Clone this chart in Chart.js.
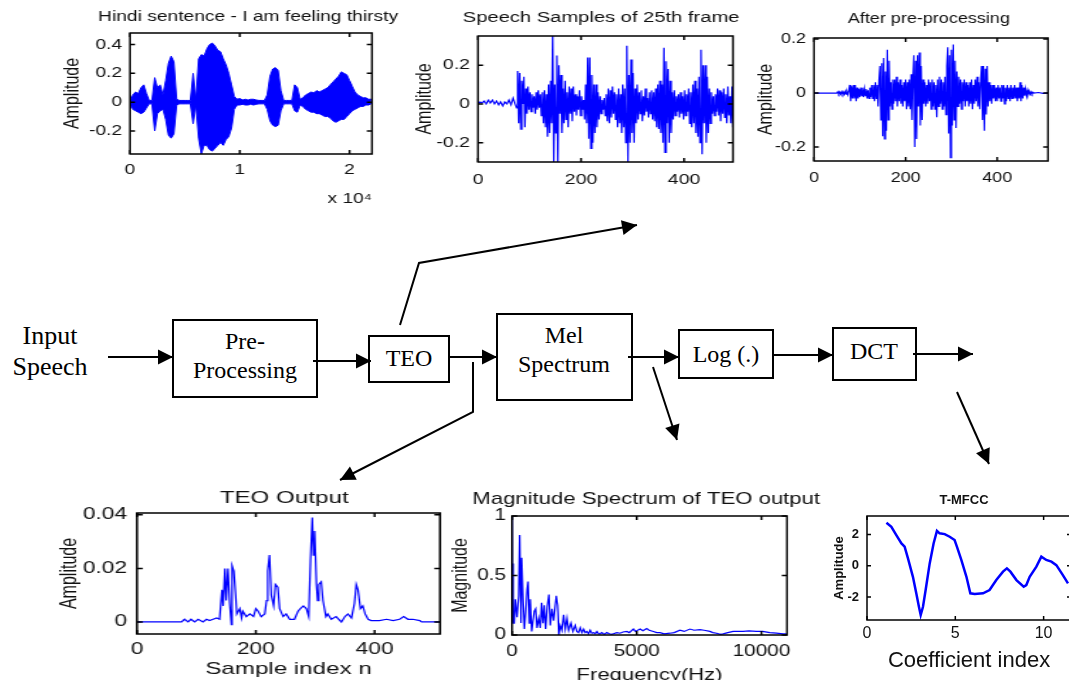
<!DOCTYPE html>
<html>
<head>
<meta charset="utf-8">
<title>TEO based MFCC extraction</title>
<script src="https://cdn.jsdelivr.net/npm/chart.js@4.4.1/dist/chart.umd.min.js"></script>
<style>
  html, body { margin: 0; padding: 0; background: #fff; }
  body { position: relative; width: 1069px; height: 680px; overflow: hidden; }
  .panel { position: absolute; transform-origin: 0 0; }
  .panel canvas { display: block; }
  #diagram { position: absolute; left: 0; top: 0; }
</style>
</head>
<body>
<svg id="diagram" width="1069" height="680"></svg>
<script>
// whole sentence, envelope read every 250 samples
var hindiX = [0,250,500,750,1000,1250,1500,1750,2000,2250,2500,2750,3000,3250,3500,3750,4000,4250,4500,4750,5000,5250,5500,5750,6000,6250,6500,6750,7000,7250,7500,7750,8000,8250,8500,8750,9000,9250,9500,9750,10000,10250,10500,10750,11000,11250,11500,11750,12000,12250,12500,12750,13000,13250,13500,13750,14000,14250,14500,14750,15000,15250,15500,15750,16000,16250,16500,16750,17000,17250,17500,17750,18000,18250,18500,18750,19000,19250,19500,19750,20000,20250,20500,20750,21000,21250,21500,21750,22000];
var hindiUpper = [0.01,0.05,0.07,0.06,0.10,0.12,0.06,0.012,0.012,0.17,0.10,0.12,0.05,0.15,0.27,0.32,0.28,0.02,0.012,0.012,0.012,0.012,0.012,0.20,0.02,0.30,0.33,0.32,0.37,0.40,0.41,0.39,0.36,0.35,0.30,0.26,0.20,0.12,0.04,0.02,0.025,0.015,0.02,0.015,0.02,0.02,0.015,0.012,0.012,0.012,0.05,0.18,0.23,0.24,0.22,0.08,0.012,0.012,0.012,0.012,0.12,0.10,0.02,0.03,0.05,0.06,0.07,0.065,0.08,0.07,0.08,0.09,0.10,0.12,0.14,0.16,0.18,0.21,0.20,0.19,0.15,0.11,0.07,0.05,0.04,0.03,0.03,0.02,0.02];
var hindiLower = [-0.01,-0.05,-0.06,-0.07,-0.08,-0.07,-0.04,-0.012,-0.012,-0.20,-0.08,-0.06,-0.05,-0.12,-0.23,-0.25,-0.22,-0.02,-0.012,-0.012,-0.012,-0.012,-0.012,-0.15,-0.02,-0.25,-0.36,-0.30,-0.30,-0.33,-0.34,-0.32,-0.30,-0.28,-0.30,-0.26,-0.24,-0.18,-0.05,-0.02,-0.02,-0.015,-0.02,-0.02,-0.015,-0.02,-0.015,-0.012,-0.012,-0.012,-0.05,-0.13,-0.16,-0.17,-0.16,-0.06,-0.012,-0.012,-0.012,-0.012,-0.06,-0.07,-0.02,-0.03,-0.05,-0.06,-0.07,-0.07,-0.08,-0.08,-0.09,-0.10,-0.10,-0.11,-0.13,-0.14,-0.13,-0.12,-0.12,-0.10,-0.08,-0.06,-0.05,-0.04,-0.03,-0.03,-0.02,-0.02,-0.01];

// 25th frame
var frameN = [0,4,8,12,16,20,24,28,32,36,40,44,48,52,56,60,64,68,72,75,77,79,81,83,85,87,89,91,93,95,97,99,101,103,105,107,109,111,113,115,117,119,121,123,125,127,129,131,133,135,137,139,141,143,145,147,149,151,153,155,157,159,161,163,165,167,169,171,173,175,177,179,181,183,185,187,189,191,193,195,197,199,201,203,205,207,209,211,213,215,217,219,221,223,225,227,229,231,233,235,237,239,241,243,245,247,249,251,253,255,257,259,261,263,265,267,269,271,273,275,277,279,281,283,285,287,289,291,293,295,297,299,301,303,305,307,309,311,313,315,317,319,321,323,325,327,329,331,333,335,337,339,341,343,345,347,349,351,353,355,357,359,361,363,365,367,369,371,373,375,377,379,381,383,385,387,389,391,393,395,397,399,401,403,405,407,409,411,413,415,417,419,421,423,425,427,429,431,433,435,437,439,441,443,445,447,449,451,453,455,457,459,461,463,465,467,469,471,473,475,477,479,481,483,485,487,489,491,493,495];
var frameAmp = [0,0.01,0.005,0.015,0,0.02,0.005,0.02,0,0.015,-0.005,0.01,-0.01,0.01,0,0.02,-0.005,0.03,0,-0.02,0.17,-0.1,0.16,-0.13,0.12,0,0.14,-0.12,0.08,-0.05,0.09,-0.03,0.06,-0.04,0.05,-0.02,0.04,-0.05,0.06,-0.03,0.07,-0.02,0.05,-0.06,0.06,-0.1,0.07,-0.12,0.05,-0.17,0.1,-0.15,0.12,-0.1,0.36,-0.3,0.1,-0.15,0.25,-0.3,0.2,-0.05,0.15,-0.15,0.08,-0.1,0.12,-0.08,0.06,-0.12,0.09,-0.05,0.08,-0.09,0.09,-0.04,0.05,-0.06,0.04,-0.03,0.07,-0.06,0.04,-0.03,0.02,-0.08,0.1,-0.1,0.24,-0.18,0.24,-0.23,0.15,-0.2,0.1,-0.15,0.1,-0.12,0.06,-0.08,0.04,-0.05,0.02,-0.03,0.03,-0.06,0.05,-0.09,0.08,-0.1,0.07,-0.07,0.09,-0.05,0.06,-0.08,0.05,-0.12,0.08,-0.1,0.05,-0.15,0.1,-0.12,0.08,-0.2,0.3,-0.3,0.15,-0.2,0.23,-0.15,0.16,-0.2,0.08,-0.1,0.1,-0.08,0.06,-0.05,0.07,-0.09,0.04,-0.06,0.08,-0.04,0.03,-0.07,0.06,-0.05,0.07,-0.08,0.06,-0.09,0.08,-0.12,0.1,-0.13,0.12,-0.15,0.1,-0.2,0.29,-0.25,0.22,-0.1,0.18,-0.2,0.12,-0.15,0.06,-0.08,0.07,-0.06,0.04,-0.04,0.05,-0.07,0.06,-0.05,0.04,-0.08,0.07,-0.06,0.05,-0.04,0.08,-0.1,0.06,-0.12,0.1,-0.1,0.12,-0.15,0.08,-0.17,0.14,-0.2,0.28,-0.26,0.2,-0.1,0.2,-0.2,0.14,-0.15,0.08,-0.1,0.06,-0.05,0.04,-0.06,0.05,-0.04,0.08,-0.06,0.07,-0.09,0.06,-0.05,0.08,-0.07,0.05,-0.1,0.09,-0.06,0.04,-0.1,0.09,-0.12];

// same frame after pre-processing
var preN = [0,50,52,54,56,58,60,62,64,66,68,70,72,74,76,78,80,82,84,86,88,90,92,94,96,98,100,102,104,106,108,110,112,114,116,118,120,122,124,126,128,130,132,134,136,138,140,142,144,146,148,150,152,154,156,158,160,162,164,166,168,170,172,174,176,178,180,182,184,186,188,190,192,194,196,198,200,202,204,206,208,210,212,214,216,218,220,222,224,226,228,230,232,234,236,238,240,242,244,246,248,250,252,254,256,258,260,262,264,266,268,270,272,274,276,278,280,282,284,286,288,290,292,294,296,298,300,302,304,306,308,310,312,314,316,318,320,322,324,326,328,330,332,334,336,338,340,342,344,346,348,350,352,354,356,358,360,362,364,366,368,370,372,374,376,378,380,382,384,386,388,390,392,394,396,398,400,402,404,406,408,410,412,414,416,418,420,422,424,426,428,430,432,434,436,438,440,442,444,446,448,450,452,454,456,458,460,462,464,466,468,470,472,474,476,478,480,490,500,511];
var preAmp = [0,0,0.005,-0.003,0.004,-0.004,0.005,-0.004,0.004,-0.005,0.006,-0.004,0.005,-0.006,0.01,0.03,-0.03,0.025,-0.02,0.03,-0.02,0.03,-0.03,0.02,-0.02,0.015,-0.015,0.02,-0.01,0.02,-0.015,0.015,-0.01,0.015,-0.02,0.01,-0.02,0.02,-0.015,0.03,-0.02,0.03,-0.03,0.04,-0.02,0.03,-0.05,0.05,0.1,-0.1,0.11,-0.16,0.13,-0.17,0.08,-0.14,0.16,-0.1,0.12,-0.05,0.04,-0.06,0.05,-0.04,0.05,-0.03,0.06,-0.05,0.04,-0.03,0.05,-0.04,0.03,-0.05,0.04,-0.03,0.05,-0.06,0.04,-0.05,0.05,-0.06,0.07,-0.1,0.06,0.14,-0.2,0.12,-0.17,0.14,-0.05,0.15,-0.12,0.1,-0.1,0.05,-0.04,0.04,-0.05,0.03,-0.04,0.05,-0.03,0.04,-0.06,0.05,-0.05,0.04,-0.06,0.03,-0.09,0.05,-0.05,0.06,-0.04,0.05,-0.06,0.04,-0.05,0.06,-0.08,0.1,0.17,-0.15,0.14,-0.24,0.16,-0.12,0.18,-0.1,0.12,-0.13,0.08,-0.05,0.06,-0.04,0.05,-0.06,0.04,-0.03,0.05,-0.05,0.04,-0.03,0.03,-0.05,0.04,-0.04,0.05,-0.06,0.03,-0.04,0.05,-0.03,0.06,-0.05,0.04,-0.06,0.05,0.1,-0.1,0.1,-0.14,0.09,-0.08,0.1,-0.05,0.04,-0.03,0.03,-0.04,0.03,-0.02,0.03,-0.03,0.02,-0.03,0.03,-0.02,0.02,-0.03,0.03,-0.02,0.03,-0.04,0.02,-0.03,0.03,-0.02,0.02,-0.03,0.03,-0.02,0.02,-0.02,0.03,-0.02,0.02,-0.03,0.02,-0.02,0.04,-0.03,0.03,-0.02,0.02,-0.01,0.015,-0.01,0.01,-0.005,0.008,-0.004,0.004,-0.003,0.003,0,0.002,-0.001,0];

// TEO output
var teoN = [0,75,80,86,91,97,103,111,117,122,128,134,139,143,145,148,150,153,156,159,160,163,166,168,173,176,178,184,190,196,200,204,209,215,218,220,223,226,230,233,237,240,246,251,257,265,271,275,280,285,289,292,295,297,299,302,304,306,310,313,318,321,327,335,344,350,355,361,366,369,372,376,380,384,389,394,408,420,431,442,449,456,464,476,479,509];
var teoVal = [0,0,0.001,0,0.001,0,0.001,0,0.001,0.0005,0.001,0.0015,0.001,0.012,0.006,0.02,0.008,0.02,0.007,-0.001,0.021,0.019,0.01,0.003,0.005,0.0015,0.004,0.002,0.003,0.002,0.005,0.004,0.002,0.003,0.008,0.019,0.025,0.01,0.006,0.014,0.013,0.005,0.002,0.003,0.001,0.001,0.004,0.005,0.006,0.005,0.002,0.023,0.039,0.025,0.034,0.014,0.008,0.014,0.015,0.008,0.002,0.003,0.001,0.002,0,0.002,0.003,0.0015,0.007,0.014,0.012,0.005,0.006,0.003,0.001,0.0005,0.0005,0.001,0.0005,0.001,0.002,0.001,0.001,0.0005,0,0];

// magnitude spectrum of the TEO output
var specHz = [0,20,40,60,93,133,200,267,307,360,387,440,493,547,600,640,693,733,787,840,893,947,1000,1067,1133,1187,1240,1293,1347,1413,1480,1533,1600,1667,1773,1827,1880,1933,2000,2067,2133,2200,2267,2360,2440,2533,2600,2667,2733,2800,2867,2933,3000,3067,3133,3200,3267,3333,3400,3467,3533,3600,3700,3800,3900,4000,4067,4200,4333,4450,4600,4700,4867,4950,5133,5250,5400,5500,5667,5800,5933,6100,6333,6500,6733,6900,7133,7300,7533,7700,7933,8050,8200,8350,8467,8650,8867,9050,9267,9500,9800,10050,10333,10600,10867,11000];
var specMag = [1.0,0.15,0.6,0.1,0.1,0.3,0.15,0.33,0.84,0.1,0.65,0.3,0.05,0.2,0.38,0.45,0.1,0.3,0.03,0.12,0.2,0.22,0.06,0.14,0.06,0.27,0.1,0.25,0.05,0.24,0.34,0.08,0.22,0.12,0.33,0.25,0,0.08,0.04,0.17,0.05,0.14,0.04,0.1,0.03,0.08,0.03,0.02,0.06,0.02,0.05,0.02,0.03,0.01,0.04,0.015,0.02,0.01,0.03,0.01,0.01,0.02,0.005,0.02,0.01,0.005,0.01,0.02,0.015,0.025,0.03,0.02,0.05,0.03,0.05,0.035,0.055,0.04,0.03,0.02,0.02,0.01,0.015,0.02,0.04,0.03,0.05,0.04,0.045,0.04,0.03,0.02,0.015,0.005,0.01,0.02,0.03,0.03,0.03,0.035,0.03,0.03,0.02,0.015,0.01,0.01];

// T-MFCC coefficients
var mfccIdx = [1.10,1.38,1.66,1.95,2.13,2.32,2.60,2.79,2.94,3.04,3.17,3.32,3.55,3.77,3.96,4.11,4.40,4.68,4.96,5.09,5.34,5.63,5.85,6.10,6.57,6.94,7.32,7.70,7.92,8.12,8.46,8.87,9.02,9.21,9.59,9.87,10.15,10.44,10.72,11.09,11.38];
var mfccVal = [2.76,2.50,1.97,1.43,1.22,0.47,-0.71,-1.77,-2.63,-3.16,-2.63,-1.56,0.15,1.43,2.24,2.08,2.03,1.86,1.65,1.22,0.37,-0.71,-1.77,-1.81,-1.77,-1.56,-0.92,-0.38,-0.17,-0.38,-0.92,-1.35,-1.24,-0.71,-0.06,0.58,0.37,0.26,0.04,-0.60,-1.13];

// tick labels
var hindiXTicks = [0, 10000, 20000];
var hindiYTicks = [-0.2, 0, 0.2, 0.4];
var frameXTicks = [0, 200, 400];
var frameYTicks = [-0.2, 0, 0.2];
var teoYTicks = [0, 0.02, 0.04];
var specXTicks = [0, 5000, 10000];
var specYTicks = [0, 0.5, 1];
var mfccXTicks = [0, 5, 10];
var mfccYTicks = [-2, 0, 2];

// block diagram
var blocks = [
  { x: 173, y: 320, w: 144, h: 77, lines: ['Pre-', 'Processing'], cx: 245, base: [349, 378] },
  { x: 369, y: 336, w: 80, h: 46, lines: ['TEO'], cx: 409, base: [366] },
  { x: 497, y: 314, w: 135, h: 86, lines: ['Mel', 'Spectrum'], cx: 564, base: [343, 372] },
  { x: 679, y: 330, w: 94, h: 48, lines: ['Log (.)'], cx: 726, base: [362] },
  { x: 833, y: 328, w: 83, h: 52, lines: ['DCT'], cx: 874, base: [359] }
];
var arrows = [
  [[108, 357], [173, 357]],
  [[313, 361], [371, 361]],
  [[449, 357], [497, 357]],
  [[628, 357], [679, 357]],
  [[773, 355], [833, 355]],
  [[913, 354], [973, 354]],
  [[400, 325], [419, 263], [637, 225]],
  [[473, 362], [473, 412], [340, 480]],
  [[653, 367], [677, 440]],
  [[957, 392], [989, 464]]
];

Chart.defaults.font.family = '"Liberation Sans", Arial, sans-serif';

var svg = document.getElementById('diagram');
function el(tag, attrs, text) {
  var n = document.createElementNS('http://www.w3.org/2000/svg', tag);
  for (var k in attrs) n.setAttribute(k, attrs[k]);
  if (text) n.textContent = text;
  svg.appendChild(n);
  return n;
}
var serif = '"Liberation Serif", "Times New Roman", serif';
el('text', { x: 50, y: 344, 'text-anchor': 'middle', 'font-family': serif, 'font-size': 26 }, 'Input');
el('text', { x: 50, y: 375, 'text-anchor': 'middle', 'font-family': serif, 'font-size': 26 }, 'Speech');
blocks.forEach(function (b) {
  el('rect', { x: b.x, y: b.y, width: b.w, height: b.h, fill: 'none', stroke: '#000', 'stroke-width': 2 });
  b.lines.forEach(function (t, i) {
    el('text', { x: b.cx, y: b.base[i], 'text-anchor': 'middle', 'font-family': serif, 'font-size': 24 }, t);
  });
});
arrows.forEach(function (pts) {
  el('polyline', { points: pts.map(function (p) { return p.join(','); }).join(' '), fill: 'none', stroke: '#000', 'stroke-width': 2 });
  var a = pts[pts.length - 2], b = pts[pts.length - 1];
  var dx = b[0] - a[0], dy = b[1] - a[1], len = Math.sqrt(dx * dx + dy * dy);
  var ux = dx / len, uy = dy / len, hl = 15, hw = 7.5;
  var bx = b[0] - ux * hl, by = b[1] - uy * hl;
  el('polygon', { points: [b[0], b[1], bx - uy * hw, by + ux * hw, bx + uy * hw, by - ux * hw].join(','), fill: '#000' });
});

// MATLAB style box with inner ticks on all four sides
var frame = {
  id: 'frame',
  afterDatasetsDraw: function (chart) {
    var a = chart.chartArea, ctx = chart.ctx, xs = chart.scales.x, ys = chart.scales.y;
    ctx.save();
    ctx.strokeStyle = '#000';
    ctx.lineWidth = 1.5;
    ctx.strokeRect(a.left, a.top, a.right - a.left, a.bottom - a.top);
    ctx.beginPath();
    xs.ticks.forEach(function (t) {
      var px = xs.getPixelForValue(t.value);
      ctx.moveTo(px, a.bottom); ctx.lineTo(px, a.bottom - 4);
      ctx.moveTo(px, a.top); ctx.lineTo(px, a.top + 4);
    });
    ys.ticks.forEach(function (t) {
      var py = ys.getPixelForValue(t.value);
      ctx.moveTo(a.left, py); ctx.lineTo(a.left + 4, py);
      ctx.moveTo(a.right, py); ctx.lineTo(a.right - 4, py);
    });
    ctx.stroke();
    ctx.restore();
  }
};

function pts(xs, ys) {
  return xs.map(function (x, i) { return { x: x, y: ys[i] }; });
}
function plain(v) { return String(v); }

// box = [left, top, height]. The title is centred on the whole canvas, so the
// canvas is made wide enough for its centre to sit on the title centre; an empty
// right-hand axis takes up the space between the plot box and the canvas edge.
function addPanel(p) {
  var s = p.stretch, L = p.box[0], T = p.box[1], H = p.box[2];
  var W = 2 * (p.titleX - L);
  var wrap = document.createElement('div');
  wrap.className = 'panel';
  wrap.style.left = L + 'px';
  wrap.style.top = T + 'px';
  wrap.style.transform = 'scaleX(' + s + ')';
  var canvas = document.createElement('canvas');
  canvas.width = Math.round(W / s);
  canvas.height = H;
  wrap.appendChild(canvas);
  document.body.appendChild(wrap);

  var yW = (p.plot[0] - L) / s;
  var spareR = canvas.width - (p.plot[2] - L) / s;
  var xH = T + H - p.plot[3];
  var tf = p.titleFont.size;
  var tTop = p.titleY - T - 0.6 * tf;
  var tBottom = p.plot[1] - T - 1.2 * tf - tTop;
  var xf = p.xTickFont.size;

  new Chart(canvas, {
    type: 'line',
    data: { datasets: p.datasets },
    options: {
      responsive: false,
      animation: false,
      events: [],
      layout: { padding: 0 },
      elements: { point: { radius: 0 }, line: { tension: 0 } },
      plugins: {
        legend: { display: false },
        tooltip: { enabled: false },
        title: {
          display: true, text: p.title, color: '#111',
          font: p.titleFont, padding: { top: tTop, bottom: tBottom }
        }
      },
      scales: {
        x: {
          type: 'linear', min: p.xRange[0], max: p.xRange[1],
          grid: { display: false, drawTicks: false },
          border: { display: false },
          afterBuildTicks: function (sc) { sc.ticks = p.xTicks.map(function (v) { return { value: v }; }); },
          afterFit: function (sc) { sc.height = xH; },
          ticks: {
            color: '#111', font: p.xTickFont, autoSkip: false, maxRotation: 0,
            padding: p.xLabelY - p.plot[3] - 0.6 * xf,
            callback: p.xFormat || plain
          },
          title: p.xTitle ? {
            display: true, text: p.xTitle.text, align: p.xTitle.align || 'center',
            color: '#111', font: p.xTitle.font,
            padding: { top: 0, bottom: T + H - p.xTitle.y - 0.6 * p.xTitle.font.size }
          } : { display: false }
        },
        y: {
          type: 'linear', min: p.yRange[0], max: p.yRange[1],
          grid: { display: false, drawTicks: false },
          border: { display: false },
          afterBuildTicks: function (sc) { sc.ticks = p.yTicks.map(function (v) { return { value: v }; }); },
          afterFit: function (sc) { sc.width = yW; },
          ticks: {
            color: '#111', font: p.yTickFont, autoSkip: false,
            padding: (p.plot[0] - p.yLabelRight) / s,
            callback: plain
          },
          title: {
            display: true, text: p.yTitle.text, color: '#111', font: p.yTitle.font,
            padding: { top: (p.yTitle.x - L) / s - 0.6 * p.yTitle.font.size, bottom: 0 }
          }
        },
        spare: {
          type: 'linear', position: 'right', min: 0, max: 1,
          grid: { display: false, drawTicks: false },
          border: { display: false },
          ticks: { display: false },
          afterFit: function (sc) { sc.width = spareR; }
        }
      }
    },
    plugins: [frame]
  });
}

var blue = '#0000ff';

addPanel({
  box: [58, 0, 212], plot: [130, 33, 372, 154], stretch: 1.28,
  title: 'Hindi sentence - I am feeling thirsty', titleFont: { size: 15, weight: 'normal' }, titleX: 248, titleY: 17,
  xRange: [0, 22050], xTicks: hindiXTicks, xTickFont: { size: 15 }, xLabelY: 170,
  xFormat: function (v) { return String(v / 10000); },
  xTitle: { text: 'x 10\u2074', align: 'end', font: { size: 15 }, y: 199 },
  yRange: [-0.36, 0.48], yTicks: hindiYTicks, yTickFont: { size: 15 }, yLabelRight: 122,
  yTitle: { text: 'Amplitude', font: { size: 16 }, x: 73 },
  datasets: [
    { data: pts(hindiX, hindiUpper), borderColor: blue, borderWidth: 1, backgroundColor: blue, fill: '+1' },
    { data: pts(hindiX, hindiLower), borderColor: blue, borderWidth: 1, fill: false }
  ]
});

addPanel({
  box: [410, 0, 195], plot: [478, 36, 733, 162], stretch: 1.3,
  title: 'Speech Samples of 25th frame', titleFont: { size: 15.5, weight: 'normal' }, titleX: 601, titleY: 17.5,
  xRange: [0, 495], xTicks: frameXTicks, xTickFont: { size: 15 }, xLabelY: 180,
  yRange: [-0.3, 0.351], yTicks: frameYTicks, yTickFont: { size: 15 }, yLabelRight: 470,
  yTitle: { text: 'Amplitude', font: { size: 16 }, x: 425 },
  datasets: [{ data: pts(frameN, frameAmp), borderColor: blue, borderWidth: 1.2, fill: false }]
});

addPanel({
  box: [750, 0, 195], plot: [814, 38, 1048, 161], stretch: 1.2,
  title: 'After pre-processing', titleFont: { size: 15, weight: 'normal' }, titleX: 929, titleY: 19,
  xRange: [0, 511], xTicks: frameXTicks, xTickFont: { size: 15 }, xLabelY: 177.5,
  yRange: [-0.252, 0.204], yTicks: frameYTicks, yTickFont: { size: 15 }, yLabelRight: 806,
  yTitle: { text: 'Amplitude', font: { size: 16 }, x: 766 },
  datasets: [{ data: pts(preN, preAmp), borderColor: blue, borderWidth: 1.2, fill: false }]
});

addPanel({
  box: [52, 480, 200], plot: [137, 513, 440, 634], stretch: 1.42,
  title: 'TEO Output', titleFont: { size: 17, weight: 'normal' }, titleX: 284, titleY: 498,
  xRange: [0, 510], xTicks: frameXTicks, xTickFont: { size: 16 }, xLabelY: 650,
  xTitle: { text: 'Sample index n', font: { size: 17 }, y: 669 },
  yRange: [-0.0045, 0.0407], yTicks: teoYTicks, yTickFont: { size: 16 }, yLabelRight: 127,
  yTitle: { text: 'Amplitude', font: { size: 16 }, x: 69.5 },
  datasets: [{ data: pts(teoN, teoVal), borderColor: blue, borderWidth: 1.2, fill: false }]
});

addPanel({
  box: [446, 480, 206], plot: [512, 516, 787, 635], stretch: 1.3,
  title: 'Magnitude Spectrum of TEO output', titleFont: { size: 17, weight: 'normal' }, titleX: 646.5, titleY: 499,
  xRange: [0, 11025], xTicks: specXTicks, xTickFont: { size: 16 }, xLabelY: 651.5,
  xTitle: { text: 'Frequency(Hz)', font: { size: 17 }, y: 675 },
  yRange: [0, 1], yTicks: specYTicks, yTickFont: { size: 16 }, yLabelRight: 506,
  yTitle: { text: 'Magnitude', font: { size: 16 }, x: 461.5 },
  datasets: [{ data: pts(specHz, specMag), borderColor: blue, borderWidth: 1.2, fill: false }]
});

addPanel({
  box: [820, 480, 196], plot: [867, 516, 1071, 620], stretch: 1,
  title: 'T-MFCC', titleFont: { size: 13, weight: 'bold' }, titleX: 964, titleY: 500,
  xRange: [0, 11.55], xTicks: mfccXTicks, xTickFont: { size: 16 }, xLabelY: 634,
  xTitle: { text: 'Coefficient index', font: { size: 22 }, y: 661 },
  yRange: [-3.48, 3.19], yTicks: mfccYTicks, yTickFont: { size: 13, weight: 'bold' }, yLabelRight: 859,
  yTitle: { text: 'Amplitude', font: { size: 13, weight: 'bold' }, x: 839.5 },
  datasets: [{ data: pts(mfccIdx, mfccVal), borderColor: blue, borderWidth: 2.5, fill: false }]
});
</script>
</body>
</html>
